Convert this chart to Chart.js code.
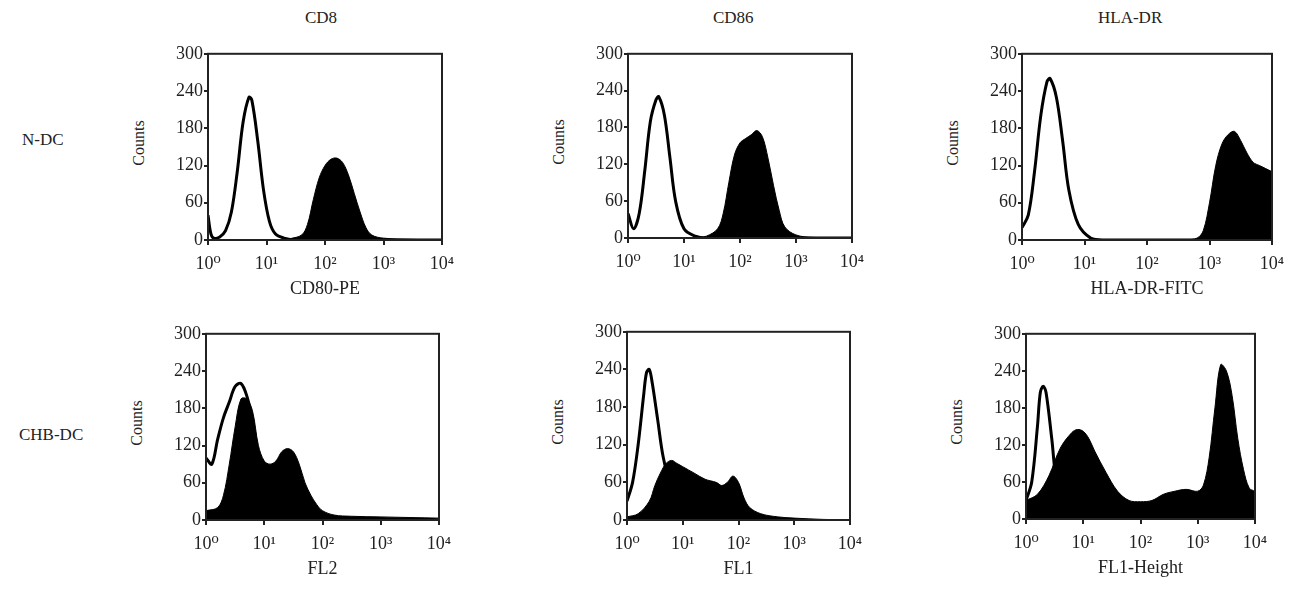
<!DOCTYPE html>
<html>
<head>
<meta charset="utf-8">
<script src="https://cdn.jsdelivr.net/npm/chart.js@4"></script>
<style>
  body { margin: 0; width: 1290px; height: 601px; background: #fff; position: relative; overflow: hidden;
         font-family: "Liberation Serif", "DejaVu Serif", serif; color: #222; }
  canvas { position: absolute; }
  .lbl { position: absolute; font-size: 17px; white-space: nowrap; }
</style>
</head>
<body>
<div class="lbl" style="left:305px;top:8px">CD8</div>
<div class="lbl" style="left:713px;top:8px">CD86</div>
<div class="lbl" style="left:1098px;top:8px">HLA-DR</div>
<div class="lbl" style="left:22px;top:130px">N-DC</div>
<div class="lbl" style="left:19px;top:425px">CHB-DC</div>

<canvas id="c1"></canvas><canvas id="c2"></canvas><canvas id="c3"></canvas>
<canvas id="c4"></canvas><canvas id="c5"></canvas><canvas id="c6"></canvas>

<script>
// x values are log10 of the fluorescence channel (10^0 .. 10^4)
const yTicks = [0, 60, 120, 180, 240, 300];
const xTickLabels = ["10⁰", "10¹", "10²", "10³", "10⁴"];
const xTitles = ["CD80-PE", "", "HLA-DR-FITC", "FL2", "FL1", "FL1-Height"];

// N-DC / CD8
const p1CtrlX = [0, 0.05, 0.1, 0.2, 0.3, 0.4, 0.5, 0.6, 0.7, 0.75, 0.85, 0.95, 1.05, 1.15, 1.3, 1.5, 4];
const p1CtrlY = [40, 10, 3, 5, 15, 45, 110, 190, 230, 225, 160, 80, 30, 10, 3, 0, 0];
const p1FillX = [1.4, 1.6, 1.7, 1.8, 1.9, 2.0, 2.1, 2.2, 2.3, 2.4, 2.5, 2.6, 2.7, 2.8, 3.0, 3.5, 4];
const p1FillY = [2, 8, 25, 65, 100, 120, 130, 132, 125, 105, 75, 45, 20, 8, 3, 1, 0];
// N-DC / CD86
const p2CtrlX = [0, 0.1, 0.2, 0.3, 0.4, 0.5, 0.55, 0.65, 0.75, 0.85, 1.0, 1.2, 1.4, 4];
const p2CtrlY = [40, 15, 40, 110, 190, 225, 230, 200, 130, 60, 15, 3, 0, 0];
const p2FillX = [1.2, 1.4, 1.6, 1.7, 1.8, 1.9, 2.0, 2.1, 2.2, 2.3, 2.4, 2.5, 2.6, 2.7, 2.8, 3.0, 3.3, 4];
const p2FillY = [0, 3, 15, 40, 90, 135, 155, 162, 168, 175, 165, 130, 85, 45, 18, 5, 1, 0];
// N-DC / HLA-DR
const p3CtrlX = [0, 0.1, 0.2, 0.3, 0.4, 0.45, 0.55, 0.65, 0.75, 0.9, 1.1, 1.3, 4];
const p3CtrlY = [20, 40, 110, 200, 255, 260, 230, 160, 80, 25, 3, 0, 0];
const p3FillX = [2.6, 2.8, 2.9, 3.0, 3.1, 3.2, 3.3, 3.4, 3.5, 3.6, 3.7, 3.8, 3.9, 4];
const p3FillY = [0, 3, 15, 60, 120, 155, 170, 175, 160, 140, 125, 120, 115, 110];
// CHB-DC / FL2
const p4CtrlX = [0, 0.1, 0.2, 0.3, 0.4, 0.5, 0.6, 0.7, 0.8, 0.9, 1.0, 1.1, 1.2, 1.4];
const p4CtrlY = [100, 90, 130, 165, 190, 215, 220, 200, 160, 100, 40, 10, 3, 0];
const p4FillX = [0, 0.2, 0.3, 0.4, 0.5, 0.6, 0.7, 0.8, 0.9, 1.0, 1.1, 1.2, 1.3, 1.4, 1.5, 1.6, 1.7, 1.8, 1.9, 2.0, 2.2, 2.5, 3, 3.5, 4];
const p4FillY = [15, 20, 40, 90, 150, 195, 195, 175, 120, 95, 90, 95, 110, 115, 110, 90, 60, 40, 25, 15, 8, 6, 5, 4, 3];
// CHB-DC / FL1
const p5CtrlX = [0, 0.1, 0.2, 0.3, 0.35, 0.4, 0.45, 0.55, 0.65, 0.8, 1.0, 1.2];
const p5CtrlY = [30, 60, 120, 200, 235, 240, 220, 160, 100, 50, 15, 0];
const p5FillX = [0, 0.2, 0.4, 0.5, 0.6, 0.7, 0.8, 0.9, 1.0, 1.2, 1.4, 1.6, 1.7, 1.8, 1.9, 2.0, 2.1, 2.2, 2.4, 2.7, 3, 3.5, 4];
const p5FillY = [5, 10, 30, 55, 75, 90, 95, 90, 85, 75, 65, 60, 55, 60, 70, 60, 35, 20, 10, 5, 3, 1, 0];
// CHB-DC / FL1-Height
const p6CtrlX = [0, 0.1, 0.2, 0.25, 0.3, 0.35, 0.45, 0.55, 0.7];
const p6CtrlY = [30, 60, 150, 205, 215, 205, 130, 50, 20];
const p6FillX = [0, 0.2, 0.4, 0.6, 0.8, 0.9, 1.0, 1.1, 1.2, 1.4, 1.6, 1.8, 2.0, 2.2, 2.4, 2.6, 2.8, 3.0, 3.1, 3.2, 3.3, 3.4, 3.5, 3.6, 3.7, 3.8, 3.9, 4];
const p6FillY = [30, 40, 70, 115, 140, 145, 142, 130, 110, 75, 45, 30, 28, 30, 40, 45, 48, 45, 55, 100, 180, 250, 240, 200, 130, 80, 50, 45];

const YW = 46, XH = 60, PT = 5, PR = 2;

// box around plot area
const frame = {
  id: "frame",
  afterDraw(chart) {
    const a = chart.chartArea, c = chart.ctx;
    c.save();
    c.strokeStyle = "#222";
    c.lineWidth = 2;
    c.strokeRect(a.left, a.top, a.right - a.left, a.bottom - a.top);
    c.restore();
  }
};

function pts(xs, ys) {
  return xs.map((x, i) => ({ x: x, y: ys[i] }));
}

function makePanel(id, box, ctrlX, ctrlY, fillX, fillY, xTitle) {
  const cv = document.getElementById(id);
  const w = box[2] + YW + 14, h = box[3] + PT + XH;
  cv.style.left = (box[0] - YW) + "px";
  cv.style.top = (box[1] - PT) + "px";
  cv.style.width = w + "px";
  cv.style.height = h + "px";
  cv.width = w; cv.height = h;
  const font = { family: "'Liberation Serif', 'DejaVu Serif', serif", size: 18 };
  const chart = new Chart(cv.getContext("2d"), {
    type: "line",
    data: {
      datasets: [
        { data: pts(fillX, fillY), borderColor: "#000", backgroundColor: "#000", fill: "origin",
          borderWidth: 1, pointRadius: 0, tension: 0.35, order: 2 },
        { data: pts(ctrlX, ctrlY), borderColor: "#000", fill: false,
          borderWidth: 3, pointRadius: 0, tension: 0.35, order: 1 }
      ]
    },
    options: {
      responsive: false,
      animation: false,
      layout: { padding: { top: PT, right: PR, left: 0, bottom: 0 } },
      plugins: { legend: { display: false }, tooltip: { enabled: false } },
      scales: {
        x: {
          type: "linear", min: 0, max: 4,
          afterFit: s => { s.height = XH; s.paddingRight = 14 - PR; },
          afterBuildTicks: s => { s.ticks = [0, 1, 2, 3, 4].map(v => ({ value: v })); },
          ticks: { color: "#222", font: font, maxRotation: 0, padding: 8,
                   callback: v => xTickLabels[v] },
          grid: { drawOnChartArea: false, color: "#222", tickLength: 5, lineWidth: 2 },
          border: { display: false },
          title: { display: xTitle !== "", text: xTitle, color: "#222", font: font, padding: 0 }
        },
        y: {
          min: 0, max: 300,
          afterFit: s => { s.width = YW; },
          afterBuildTicks: s => { s.ticks = yTicks.map(v => ({ value: v })); },
          ticks: { color: "#222", font: font, padding: 1 },
          grid: { drawOnChartArea: false, color: "#222", tickLength: 4, lineWidth: 2 },
          border: { display: false },
          title: { display: false }
        }
      }
    },
    plugins: [frame]
  });
  // "Counts" label
  const d = document.createElement("div");
  d.className = "lbl";
  d.style.fontSize = "16px";
  d.style.left = (box[0] - 92) + "px";
  d.style.top = (box[1] + box[3] / 2 - 10) + "px";
  d.style.transform = "rotate(-90deg)";
  d.textContent = "Counts";
  document.body.appendChild(d);
}

makePanel("c1", [208, 47, 232, 193], p1CtrlX, p1CtrlY, p1FillX, p1FillY, xTitles[0]);
makePanel("c2", [628, 47, 222, 191], p2CtrlX, p2CtrlY, p2FillX, p2FillY, xTitles[1]);
makePanel("c3", [1022, 47, 248, 193], p3CtrlX, p3CtrlY, p3FillX, p3FillY, xTitles[2]);
makePanel("c4", [206, 327, 231, 193], p4CtrlX, p4CtrlY, p4FillX, p4FillY, xTitles[3]);
makePanel("c5", [627, 325, 221, 195], p5CtrlX, p5CtrlY, p5FillX, p5FillY, xTitles[4]);
makePanel("c6", [1026, 327, 227, 192], p6CtrlX, p6CtrlY, p6FillX, p6FillY, xTitles[5]);
</script>
</body>
</html>
